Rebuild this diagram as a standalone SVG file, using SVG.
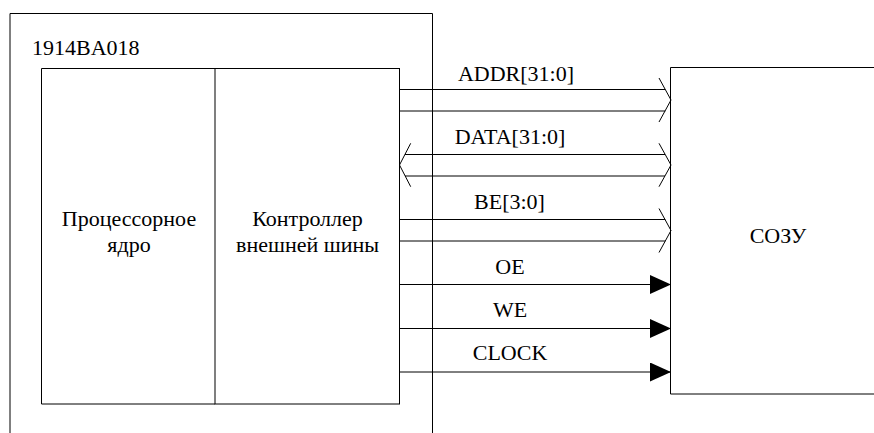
<svg xmlns="http://www.w3.org/2000/svg" width="874" height="433" viewBox="0 0 874 433">
<style>
.ln{fill:none;stroke:#000;stroke-width:1}
.m{text-anchor:middle}
text{font-family:"Liberation Serif","Times New Roman",Times,Tinos,"Noto Serif","DejaVu Serif",FreeSerif,serif;font-size:22px;fill:#000}
</style>
<defs>
<marker id="tri" markerUnits="userSpaceOnUse" markerWidth="22" markerHeight="20" refX="21" refY="9.5" orient="auto">
<path d="M0,0 L21,9.5 L0,19 z" fill="#000"/>
</marker>
</defs>
<rect width="874" height="433" fill="#fff"/>
<g id="chip">
<path class="ln" d="M10,433 V13.5 H432.5 V433"/>
<text x="32" y="55">1914BA018</text>
</g>
<g id="core">
<path class="ln" d="M215,68.5 H41.5 V404 H215"/>
<text class="m" x="129" y="226">Процессорное</text>
<text class="m" x="129" y="252">ядро</text>
</g>
<g id="ctrl">
<rect class="ln" x="215" y="68.5" width="184.5" height="335.5"/>
<text class="m" x="307.5" y="226">Контроллер</text>
<text class="m" x="307.5" y="252">внешней шины</text>
</g>
<g id="sram">
<path class="ln" d="M874,67.5 H670.5 V394 H874"/>
<text class="m" x="778" y="243">СОЗУ</text>
</g>
<g id="connectors">
<path class="ln" d="M399.5,89.5 H665.3 M659,78 L671,100 L659,122 M399.5,111 H665.3"/>
<path class="ln" d="M405,154.5 H665 M405,176 H665 M410.7,143.3 L399.5,165 L410.7,186.7 M659,143.3 L671,165 L659,186.7"/>
<path class="ln" d="M399.5,219.5 H665.3 M399.5,241 H665.3 M659,208.5 L671,230.5 L659,252.5"/>
<line class="ln" x1="399.5" y1="284.5" x2="671" y2="284.5" marker-end="url(#tri)"/>
<line class="ln" x1="399.5" y1="328.5" x2="671" y2="328.5" marker-end="url(#tri)"/>
<line class="ln" x1="399.5" y1="372" x2="671" y2="372" marker-end="url(#tri)"/>
<text class="m" x="516" y="81">ADDR[31:0]</text>
<text class="m" x="510" y="143.5">DATA[31:0]</text>
<text class="m" x="509.5" y="208.5">BE[3:0]</text>
<text class="m" x="510" y="274">OE</text>
<text class="m" x="510" y="317">WE</text>
<text class="m" x="510" y="360">CLOCK</text>
</g>
</svg>
